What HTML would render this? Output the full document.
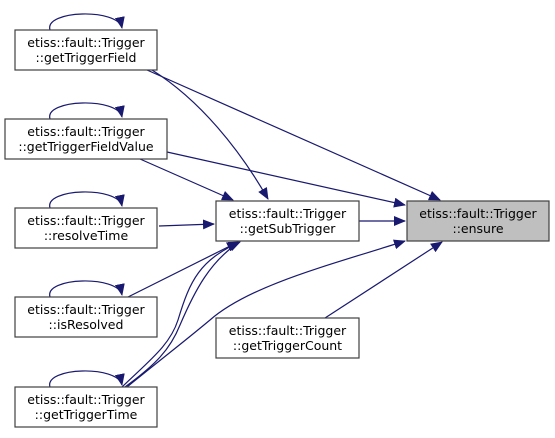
<!DOCTYPE html>
<html><head><meta charset="utf-8"><style>
html,body{margin:0;padding:0;background:#fff;}
</style></head><body>
<svg width="555" height="433" viewBox="0 0 555 433" xmlns="http://www.w3.org/2000/svg">
<defs>
<marker id="a" markerWidth="12" markerHeight="10" refX="11" refY="5" orient="auto" markerUnits="userSpaceOnUse">
<path d="M0,0 L12,5 L0,10 Z" fill="#191970"/>
</marker>
</defs>
<g fill="none" stroke="#191970" stroke-width="1.2">
<path d="M50,30 C44,10 118,8 122,28" marker-end="url(#a)"/>
<path d="M50,119 C44,99 118,97 122,117" marker-end="url(#a)"/>
<path d="M50,208 C44,188 118,186 122,206" marker-end="url(#a)"/>
<path d="M50,297 C44,277 118,275 122,295" marker-end="url(#a)"/>
<path d="M50,387 C44,367 118,365 122,385" marker-end="url(#a)"/>
<path d="M147,70 L440,200" marker-end="url(#a)"/>
<path d="M167,152 L405,205" marker-end="url(#a)"/>
<path d="M359,221 L405,221" marker-end="url(#a)"/>
<path d="M127,387 C160,360 180,345 210,320 C250,285 330,265 405,241" marker-end="url(#a)"/>
<path d="M325,318 L442,242" marker-end="url(#a)"/>
<path d="M152,70 C200,100 240,150 268,199" marker-end="url(#a)"/>
<path d="M140,159 L233,200" marker-end="url(#a)"/>
<path d="M159,226 L214,224" marker-end="url(#a)"/>
<path d="M128,297 L238,242" marker-end="url(#a)"/>
<path d="M122,387 C150,360 170,345 178,320 C190,280 200,260 240,242" marker-end="url(#a)"/>
<path d="M125,387 C155,365 170,350 180,325 C195,290 210,262 238,243"/>
</g>
<g stroke="#404040" stroke-width="1.2" fill="#fff">
<rect x="15" y="30" width="142" height="40"/>
<rect x="5" y="119" width="162" height="40"/>
<rect x="15" y="208" width="142" height="40"/>
<rect x="15" y="297" width="142" height="40"/>
<rect x="15" y="387" width="142" height="40"/>
<rect x="216" y="201" width="143" height="40"/>
<rect x="216" y="318" width="143" height="40"/>
<rect x="407" y="201" width="142" height="40" fill="#bfbfbf"/>
</g>
<g text-anchor="middle" font-family="DejaVu Sans, Liberation Sans, sans-serif" font-size="12.5" fill="#000">
<text x="86" y="47">etiss::fault::Trigger</text><text x="86" y="62">::getTriggerField</text>
<text x="86" y="136">etiss::fault::Trigger</text><text x="86" y="151">::getTriggerFieldValue</text>
<text x="86" y="225">etiss::fault::Trigger</text><text x="86" y="240">::resolveTime</text>
<text x="86" y="314">etiss::fault::Trigger</text><text x="86" y="329">::isResolved</text>
<text x="86" y="404">etiss::fault::Trigger</text><text x="86" y="419">::getTriggerTime</text>
<text x="287.5" y="218">etiss::fault::Trigger</text><text x="287.5" y="233">::getSubTrigger</text>
<text x="287.5" y="335">etiss::fault::Trigger</text><text x="287.5" y="350">::getTriggerCount</text>
<text x="478" y="218">etiss::fault::Trigger</text><text x="478" y="233">::ensure</text>
</g>
</svg>
</body></html>
